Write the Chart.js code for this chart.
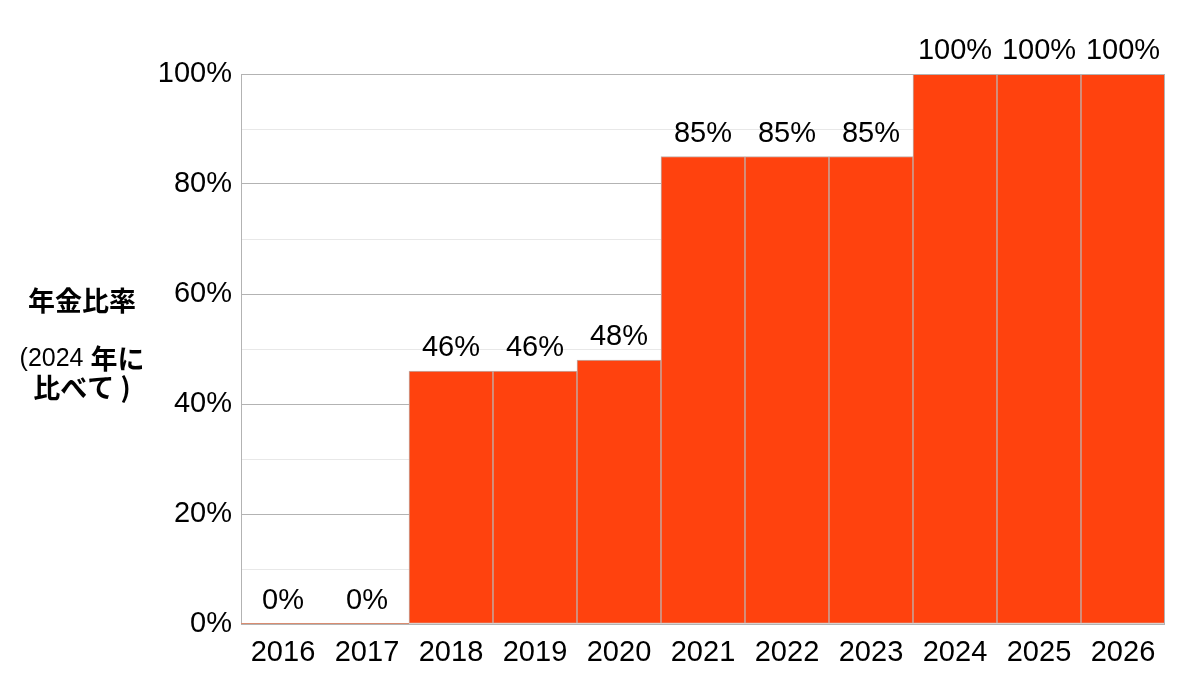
<!DOCTYPE html>
<html lang="ja">
<head>
<meta charset="utf-8">
<title>年金比率</title>
<script src="https://cdn.jsdelivr.net/npm/chart.js@4/dist/chart.umd.min.js"></script>
<style>
  html, body { margin: 0; padding: 0; background: #fff; }
  #wrap { width: 1186px; height: 683px; position: relative; }
</style>
</head>
<body>
<div id="wrap"><canvas id="pensionChart"></canvas></div>
<script>
  // ==================== Data ====================
  const years = ['2016', '2017', '2018', '2019', '2020', '2021', '2022', '2023', '2024', '2025', '2026'];
  const ratios = [0, 0, 46, 46, 48, 85, 85, 85, 100, 100, 100];
  const yTicks = [0, 20, 40, 60, 80, 100];
  const axisTitleLines = [
    [{ text: '年金比率', cjk: true }],
    [],
    [{ text: '(2024 ', cjk: false }, { text: '年に', cjk: true }],
    [{ text: '比べて )', cjk: true }]
  ];

  const BAR_COLOR = '#ff420e';
  const GRID_MAJOR = '#b3b3b3';
  const GRID_MINOR = '#e8e8e8';
  const LATIN = '"Liberation Sans", Arial, sans-serif';
  const CJK = '"Noto Sans CJK JP", "Noto Sans", sans-serif';
  const FONT_SIZE = 29;

  // ==================== Plugins ====================
  const frame = {
    id: 'frame',
    afterDatasetsDraw(chart) {
      const { ctx, chartArea: a } = chart;
      ctx.save();
      ctx.strokeStyle = GRID_MAJOR;
      ctx.lineWidth = 1;
      ctx.strokeRect(Math.round(a.left) + 0.5, Math.round(a.top) + 0.5,
        Math.round(a.right - a.left) - 1, Math.round(a.bottom - a.top));
      // zero-height bars still show a thin edge on the baseline
      const meta = chart.getDatasetMeta(0);
      ctx.strokeStyle = '#d98c70';
      meta.data.forEach((bar, i) => {
        if (ratios[i] !== 0) return;
        ctx.beginPath();
        ctx.moveTo(bar.x - bar.width / 2, Math.round(a.bottom) - 0.5);
        ctx.lineTo(bar.x + bar.width / 2, Math.round(a.bottom) - 0.5);
        ctx.stroke();
      });
      ctx.restore();
    }
  };

  const valueLabels = {
    id: 'valueLabels',
    afterDraw(chart) {
      const { ctx } = chart;
      const meta = chart.getDatasetMeta(0);
      ctx.save();
      ctx.font = FONT_SIZE + 'px ' + LATIN;
      ctx.fillStyle = '#000';
      ctx.textAlign = 'center';
      ctx.textBaseline = 'alphabetic';
      meta.data.forEach((bar, i) => {
        ctx.fillText(ratios[i] + '%', bar.x, bar.y - 15);
      });
      ctx.restore();
    }
  };

  const sideTitle = {
    id: 'sideTitle',
    afterDraw(chart) {
      const { ctx } = chart;
      const centerX = 82;
      const startY = 301;
      const lineGap = 29;
      ctx.save();
      ctx.fillStyle = '#000';
      ctx.textBaseline = 'middle';
      ctx.textAlign = 'left';
      axisTitleLines.forEach((parts, li) => {
        if (!parts.length) return;
        const fonts = parts.map(p => (p.cjk ? 'bold 27px ' + CJK : '25px ' + LATIN));
        let total = 0;
        const widths = parts.map((p, k) => {
          ctx.font = fonts[k];
          const w = ctx.measureText(p.text).width;
          total += w;
          return w;
        });
        let x = centerX - total / 2;
        parts.forEach((p, k) => {
          ctx.font = fonts[k];
          ctx.fillText(p.text, x, startY + li * lineGap);
          x += widths[k];
        });
      });
      ctx.restore();
    }
  };

  // ==================== Chart ====================
  new Chart(document.getElementById('pensionChart'), {
    type: 'bar',
    data: {
      labels: years,
      datasets: [{
        data: ratios,
        backgroundColor: BAR_COLOR,
        borderColor: '#c0b0ab',
        borderWidth: 1,
        borderSkipped: false,
        categoryPercentage: 1,
        barPercentage: 1
      }]
    },
    options: {
      responsive: true,
      maintainAspectRatio: false,
      animation: false,
      layout: { padding: { top: 74, right: 21, left: 0, bottom: 0 } },
      plugins: {
        legend: { display: false },
        tooltip: { enabled: false }
      },
      scales: {
        x: {
          grid: { display: false },
          border: { display: false },
          ticks: {
            color: '#000',
            font: { family: LATIN, size: FONT_SIZE },
            padding: 4,
            maxRotation: 0
          },
          afterFit(scale) { scale.height = 59; }
        },
        y: {
          min: 0,
          max: 100,
          border: { display: false },
          grid: {
            drawTicks: false,
            color: ctx => (yTicks.includes(ctx.tick.value) ? GRID_MAJOR : GRID_MINOR)
          },
          ticks: {
            stepSize: 10,
            autoSkip: false,
            color: '#000',
            padding: 9,
            font: { family: LATIN, size: FONT_SIZE },
            callback: v => (yTicks.includes(v) ? v + '%' : '')
          },
          afterFit(scale) { scale.width = 241; }
        }
      }
    },
    plugins: [frame, valueLabels, sideTitle]
  });
</script>
</body>
</html>
